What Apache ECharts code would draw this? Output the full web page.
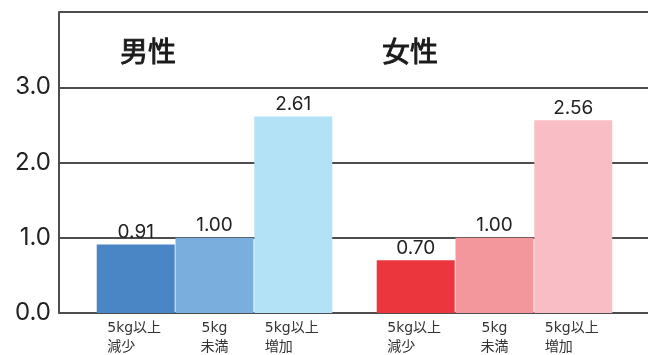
<!DOCTYPE html>
<html><head><meta charset="utf-8">
<script src="https://cdn.jsdelivr.net/npm/echarts@6/dist/echarts.min.js"></script>
<style>html,body{margin:0;padding:0;background:#fff}#c{width:648px;height:355px}</style>
</head><body><div id="c"></div>
<script>
const groups = ['男性', '女性'];
const barNames = ['5kg以上\n減少', '5kg\n未満', '5kg以上\n増加'];
const maleValues = [0.91, 1.00, 2.61];
const femaleValues = [0.70, 1.00, 2.56];
const yTicks = [0, 1, 2, 3, 4];
const maleColors = ['#4a86c5', '#7aaedc', '#b3e1f6'];
const femaleColors = ['#ec363d', '#f4979c', '#f9bec5'];

const NUM = 'Inter, "Liberation Sans", sans-serif';
const CJK = '"DejaVu Sans", "Noto Sans CJK JP", sans-serif';
const TITLE = '"Noto Sans CJK JP", sans-serif';

const series = [];
barNames.forEach((name, i) => {
  const data = [
    { value: maleValues[i], itemStyle: { color: maleColors[i] } },
    { value: femaleValues[i], itemStyle: { color: femaleColors[i] } }
  ];
  series.push({
    type: 'bar', name: name.replace('\n', ''), xAxisIndex: 1, yAxisIndex: 1,
    barWidth: 78, barGap: '1%', data: data, silent: true,
    label: { show: true, position: 'top', distance: 3, color: '#222', fontSize: 19,
      fontFamily: NUM, formatter: p => p.value.toFixed(2) }
  });
});
barNames.forEach((name, i) => {
  const wide = name.indexOf('以上') >= 0;
  const lines = name.split('\n');
  series.push({
    type: 'bar', name: 'lbl' + i, xAxisIndex: 2, yAxisIndex: 2,
    barWidth: 78, barGap: '1%', silent: true,
    data: [maleValues[i], femaleValues[i]],
    itemStyle: { color: 'rgba(0,0,0,0)' },
    label: { show: true, position: 'bottom', distance: 6, color: '#333', fontSize: 14,
      fontFamily: CJK, lineHeight: 19,
      formatter: wide ? lines.map(l => '{w|' + l + '}').join('\n') : name,
      rich: { w: { width: 57, align: 'left', fontSize: 14, lineHeight: 19, fontFamily: CJK, color: '#333' } } }
  });
});

const yBase = { type: 'value', min: yTicks[0], max: yTicks[yTicks.length - 1], interval: 1 };
const titleStyle = { fontSize: 28, fontWeight: 'normal', color: '#1a1a1a', fontFamily: TITLE,
  textBorderColor: '#1a1a1a', textBorderWidth: 0.9 };
const chart = echarts.init(document.getElementById('c'));
chart.setOption({
  animation: false,
  title: [
    { text: groups[0], left: 120, top: 37, padding: 0, textStyle: titleStyle },
    { text: groups[1], left: 382, top: 37, padding: 0, textStyle: titleStyle }
  ],
  grid: [
    { left: 59, right: 0, top: 12, bottom: 42 },
    { left: 74.5, width: 560, top: 12, bottom: 42 }
  ],
  xAxis: [
    { type: 'value', gridIndex: 0, show: false },
    { type: 'category', gridIndex: 1, data: groups, show: false },
    { type: 'category', gridIndex: 1, data: groups, show: false }
  ],
  yAxis: [
    Object.assign({}, yBase, { gridIndex: 0,
      axisLine: { show: true, lineStyle: { color: '#4d4d4d', width: 2 } },
      axisTick: { show: false },
      splitLine: { show: true, lineStyle: { color: '#4d4d4d', width: 2 } },
      axisLabel: { show: true, showMaxLabel: false, fontSize: 24, color: '#222', margin: 8,
        fontFamily: NUM, formatter: v => v.toFixed(1) } }),
    Object.assign({}, yBase, { gridIndex: 1, show: false }),
    Object.assign({}, yBase, { gridIndex: 1, show: false })
  ],
  series: series
});
</script></body></html>
